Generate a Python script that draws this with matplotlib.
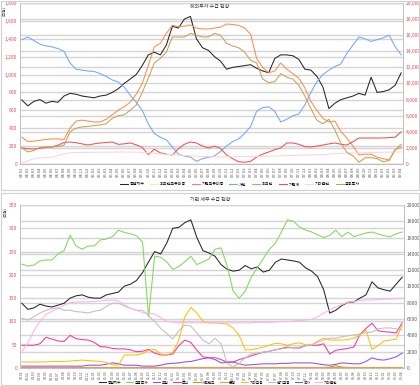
import matplotlib
matplotlib.use("Agg")
import matplotlib.pyplot as plt
from matplotlib.patches import Rectangle
from matplotlib.ticker import FuncFormatter, MultipleLocator

plt.rcParams['font.family'] = ['Noto Sans CJK KR', 'DejaVu Sans']

# x axis labels (weekly-ish sample dates, read as yy.mm)
date_labels = [f"{4 + (m // 12):02d}.{m % 12 + 1:02d}" for m in range(0, 64)]

# ---------------- top chart: 투자주체별 수급 (left axis units) ----------------
top_index = [716, 650, 700, 720, 680, 700, 690, 760, 790, 780, 760, 750, 740, 760, 770, 800,
             840, 900, 950, 1000, 1100, 1220, 1250, 1220, 1330, 1540, 1520, 1620, 1650, 1400, 1300, 1270,
             1200, 1150, 1060, 1080, 1090, 1100, 1110, 1070, 1040, 1020, 1180, 1220, 1220, 1210, 1170, 1060,
             1050, 980, 860, 620, 680, 720, 740, 760, 790, 770, 970, 800, 810, 830, 880, 1020]
top_foreign_hold = [3, 3, 3, 3, 3, 3, 3, 3, 3, 3, 3, 3, 3, 3, 3, 3,
                    3, 3, 3, 3, 3, 3, 3, 3, 3, 3, 3, 3, 3, 3, 3, 3,
                    3, 3, 3, 3, 3, 3, 3, 3, 3, 3, 3, 3, 3, 3, 3, 3,
                    3, 3, 3, 3, 3, 3, 3, 3, 3, 3, 3, 3, 3, 3, 3, 3]
top_inst_hold = [1, 1, 1, 1, 1, 1, 1, 1, 1, 1, 1, 1, 1, 1, 1, 1,
                 1, 1, 1, 1, 1, 1, 1, 1, 1, 1, 1, 1, 1, 1, 1, 1,
                 1, 1, 1, 1, 1, 1, 1, 1, 1, 1, 1, 1, 1, 1, 1, 1,
                 1, 1, 1, 1, 1, 1, 1, 1, 1, 1, 1, 1, 1, 1, 1, 1]
top_individual = [1390, 1420, 1380, 1340, 1320, 1310, 1290, 1260, 1130, 1060, 1050, 1040, 1035, 1010, 980, 940,
                  917, 860, 770, 690, 600, 450, 340, 300, 270, 190, 110, 90, 78, 30, 60, 75,
                  90, 140, 200, 250, 280, 340, 420, 590, 630, 640, 590, 470, 500, 540, 560, 660,
                  800, 920, 1000, 1050, 1090, 1120, 1240, 1330, 1420, 1400, 1370, 1390, 1410, 1440, 1310, 1220]
top_foreign = [300, 250, 255, 265, 275, 280, 280, 275, 400, 480, 490, 480, 470, 470, 500, 550,
               600, 640, 690, 780, 900, 1100, 1310, 1350, 1460, 1550, 1535, 1540, 1555, 1520, 1510, 1510,
               1520, 1530, 1565, 1560, 1550, 1520, 1450, 1180, 1080, 1020, 1040, 1130, 1060, 1010, 960, 850,
               700, 600, 510, 470, 480, 360, 290, 200, 100, 110, 110, 75, 60, 45, 160, 190]
top_institution = [180, 170, 168, 175, 185, 190, 210, 240, 246, 238, 225, 212, 225, 235, 240, 246,
                   220, 225, 235, 215, 185, 105, 165, 125, 110, 100, 170, 220, 246, 235, 200, 180,
                   200, 175, 100, 60, 25, 20, 30, 78, 110, 134, 160, 180, 235, 235, 220, 195,
                   190, 200, 212, 225, 235, 220, 212, 250, 291, 290, 291, 290, 292, 295, 300, 360]
top_other = [10, 35, 60, 68, 72, 76, 95, 115, 125, 128, 130, 130, 131, 132, 132, 133,
             134, 134, 133, 132, 130, 125, 118, 112, 108, 104, 100, 96, 92, 88, 84, 82,
             80, 80, 80, 81, 82, 83, 84, 85, 86, 88, 90, 92, 94, 96, 98, 100,
             102, 104, 106, 110, 114, 118, 121, 123, 124, 126, 128, 130, 131, 132, 134, 135]
top_fin_invest = [180, 135, 150, 185, 190, 190, 195, 210, 360, 400, 415, 420, 430, 436, 450, 510,
                  540, 550, 600, 660, 800, 960, 1130, 1180, 1250, 1420, 1420, 1420, 1460, 1440, 1420, 1420,
                  1460, 1440, 1350, 1320, 1300, 1250, 1160, 1130, 950, 910, 920, 1010, 970, 950, 880, 760,
                  620, 490, 450, 500, 380, 230, 130, 90, 20, 70, 70, 60, 25, 40, 160, 220]

top_names = ['종합지수', '외국인보유비중', '기관보유비중', '개인', '외국인', '기관계', '기타법인', '금융투자']
top_colors = ['#262626', '#ffe699', '#ff66cc', '#6fa8ff', '#ff8c4a', '#f2504f', '#ffd3d8', '#c9a05a']
top_series = [top_index, top_foreign_hold, top_inst_hold, top_individual, top_foreign,
              top_institution, top_other, top_fin_invest]

# ---------------- bottom chart: 기관 세부 수급 ----------------
bot_index = [139, 126, 129, 137, 133, 131, 135, 139, 150, 155, 157, 152, 150, 150, 157, 160,
             163, 176, 180, 188, 205, 228, 250, 245, 268, 300, 302, 312, 318, 280, 252, 247,
             240, 222, 212, 208, 210, 220, 213, 217, 206, 210, 227, 234, 232, 230, 227, 215,
             208, 196, 168, 118, 124, 134, 141, 142, 150, 157, 185, 172, 168, 165, 180, 195]
bot_fin_invest = [223, 219, 221, 230, 232, 232, 245, 252, 285, 262, 255, 262, 262, 275, 277, 282,
                  296, 291, 288, 284, 270, 110, 240, 238, 228, 212, 218, 228, 240, 222, 228, 234,
                  255, 258, 220, 165, 150, 165, 195, 215, 235, 255, 268, 292, 318, 315, 303, 296,
                  292, 286, 280, 285, 296, 282, 292, 282, 286, 290, 292, 288, 284, 282, 288, 292]
bot_insurance = [4, 4, 4, 4, 4, 4, 4, 4, 4, 4, 4, 6, 6, 6, 8, 11,
                 9, 6, 6, 6, 4, 4, 4, 6, 9, 10, 11, 13, 14, 17, 20, 22,
                 18, 11, 12, 13, 9, 6, 7, 8, 9, 9, 9, 10, 10, 11, 11, 11,
                 11, 9, 7, 6, 8, 11, 10, 9, 9, 14, 22, 18, 17, 20, 24, 32]
bot_trust = [49, 49, 49, 52, 66, 62, 58, 57, 70, 63, 61, 60, 55, 46, 45, 42,
             41, 41, 39, 35, 36, 40, 32, 28, 28, 30, 48, 60, 55, 38, 24, 22,
             22, 18, 13, 13, 18, 22, 26, 30, 34, 36, 39, 42, 45, 43, 43, 48,
             49, 49, 52, 30, 38, 40, 42, 45, 72, 85, 96, 80, 78, 77, 75, 97]
bot_private = [1, 1, 1, 1, 1, 1, 1, 1, 1, 1, 1, 1, 1, 1, 1, 1,
               1, 1, 1, 1, 1, 1, 1, 1, 1, 1, 1, 1, 1, 1, 1, 1,
               1, 1, 1, 1, 1, 1, 1, 1, 1, 1, 1, 1, 1, 1, 1, 1,
               1, 1, 1, 2, 5, 2, 1, 1, 1, 1, 1, 1, 1, 1, 1, 1]
bot_bank = [2, 2, 2, 2, 2, 2, 2, 2, 2, 2, 2, 2, 2, 2, 2, 2,
            2, 2, 2, 2, 2, 2, 2, 2, 2, 2, 2, 2, 2, 2, 2, 2,
            2, 2, 2, 2, 2, 2, 2, 2, 2, 2, 2, 2, 2, 2, 2, 2,
            2, 2, 2, 2, 2, 2, 2, 2, 2, 2, 2, 2, 2, 2, 2, 2]
bot_other_fin = [13, 13, 13, 13, 13, 14, 14, 14, 15, 16, 17, 16, 15, 14, 12, 7,
                 6, 28, 28, 28, 31, 38, 40, 30, 28, 33, 60, 110, 130, 118, 100, 97,
                 97, 96, 94, 86, 70, 39, 39, 42, 45, 49, 53, 52, 49, 52, 54, 50,
                 49, 58, 64, 60, 60, 60, 61, 64, 70, 82, 40, 48, 58, 60, 62, 92]
bot_pension = [107, 103, 110, 118, 124, 128, 129, 124, 124, 121, 120, 118, 122, 124, 132, 139,
               139, 133, 128, 124, 124, 112, 100, 85, 74, 62, 80, 92, 90, 75, 60, 52,
               64, 52, 10, 2, 10, 22, 30, 32, 34, 36, 39, 41, 43, 44, 45, 48,
               50, 55, 60, 64, 64, 67, 69, 71, 73, 76, 77, 84, 86, 86, 84, 82]
bot_state = [0.5] * 64
bot_corp = [34, 54, 80, 100, 115, 122, 128, 135, 140, 142, 142, 142, 143, 144, 145, 146,
            144, 136, 128, 124, 119, 118, 116, 108, 100, 99, 97, 97, 97, 97, 97, 97,
            97, 97, 97, 97, 97, 97, 97, 98, 98, 98, 99, 100, 100, 101, 102, 103,
            104, 110, 118, 125, 131, 136, 141, 143, 145, 146, 146, 147, 148, 148, 149, 150]

bot_names = ['종합지수', '금융투자', '보험', '투신', '사모펀드', '은행', '기타금융', '연기금등', '국가', '기타법인']
bot_colors = ['#262626', '#7ed957', '#8a4dff', '#ff3399', '#b8a000', '#ff9933', '#ffc000', '#bfbfbf',
              '#31859c', '#ffb0ee']
bot_series = [bot_index, bot_fin_invest, bot_insurance, bot_trust, bot_private, bot_bank,
              bot_other_fin, bot_pension, bot_state, bot_corp]

W, H = 420, 386
fig = plt.figure(figsize=(W / 100, H / 100), dpi=100)


def px_axes(x0, y0, x1, y1):
    return fig.add_axes([x0 / W, 1 - y1 / H, (x1 - x0) / W, (y1 - y0) / H])


# panel frames
for (y0, y1) in [(1, 190), (193, 385)]:
    fig.patches.append(Rectangle((1 / W, 1 - y1 / H), 418 / W, (y1 - y0) / H,
                                 transform=fig.transFigure, fill=False,
                                 edgecolor='#d0d0d0', lw=0.8))

tick_red = '#e8504f'
grid_col = '#d4d4d4'


def setup(ax, ax2, ymax, ystep, right_fmt, right_col, xfs):
    x = list(range(len(date_labels)))
    ax.set_xlim(-0.3, len(x) - 0.7)
    ax.set_ylim(0, ymax)
    ax.yaxis.set_major_locator(MultipleLocator(ystep))
    ax2.set_ylim(0, 20000)
    ax2.yaxis.set_major_locator(MultipleLocator(2000))
    ax2.yaxis.set_major_formatter(FuncFormatter(right_fmt))
    ax.set_xticks(x)
    ax.set_xticklabels(date_labels, rotation=90, fontsize=xfs, color='#595959')
    ax.tick_params(axis='y', labelsize=3.6, labelcolor=tick_red, length=0, pad=2)
    ax2.tick_params(axis='y', labelsize=3.6, labelcolor=right_col, length=0, pad=2)
    ax.tick_params(axis='x', length=1, width=0.4, color='#bfbfbf', pad=1)
    ax.grid(axis='y', color=grid_col, lw=1.0)
    ax2.grid(axis='y', color=grid_col, lw=1.0)
    ax.set_zorder(ax2.get_zorder() + 1)
    ax.patch.set_visible(False)
    for a in (ax, ax2):
        for s in a.spines.values():
            s.set_color('#bfbfbf')
            s.set_linewidth(0.6)
        a.spines['top'].set_visible(False)
    return x


# ---------------- top panel ----------------
ax = px_axes(20, 3, 403, 164)
ax2 = ax.twinx()
x = setup(ax, ax2, 1800, 200, lambda v, p: f"{int(v):,}", tick_red, 3.0)
ax.yaxis.set_major_formatter(FuncFormatter(lambda v, p: f"{int(v):,}"))
for name, col, vals in zip(top_names, top_colors, top_series):
    ax.plot(x, vals, color=col, lw=0.75, label=name)
fig.text(210 / W, 1 - 6 / H, '해외투자 수급 현황', fontsize=3.6, ha='center', va='center', color='#404040')
fig.text(4 / W, 1 - 11 / H, '(억원)', fontsize=2.8, rotation=90, ha='center', va='center', color='#404040')
fig.legend(*ax.get_legend_handles_labels(), loc='center', bbox_to_anchor=(240 / W, 1 - 184.5 / H),
           ncol=8, fontsize=2.9, frameon=False, handlelength=2.0, columnspacing=1.4, handletextpad=0.4)

# ---------------- bottom panel ----------------
bx = px_axes(20, 205, 404, 368)
bx2 = bx.twinx()
x = setup(bx, bx2, 350, 50, lambda v, p: f"{int(v)}", '#595959', 2.5)
for name, col, vals in zip(bot_names, bot_colors, bot_series):
    bx.plot(x, vals, color=col, lw=0.75, label=name)
fig.text(210 / W, 1 - 199 / H, '기관 세부 수급 현황', fontsize=3.6, ha='center', va='center', color='#404040')
fig.text(5 / W, 1 - 212 / H, '(억원)', fontsize=2.8, rotation=90, ha='center', va='center', color='#404040')
fig.legend(*bx.get_legend_handles_labels(), loc='center', bbox_to_anchor=(218 / W, 1 - 382.5 / H),
           ncol=10, fontsize=2.7, frameon=False, handlelength=2.0, columnspacing=1.2, handletextpad=0.4)

fig.savefig('out.png', dpi=100)
